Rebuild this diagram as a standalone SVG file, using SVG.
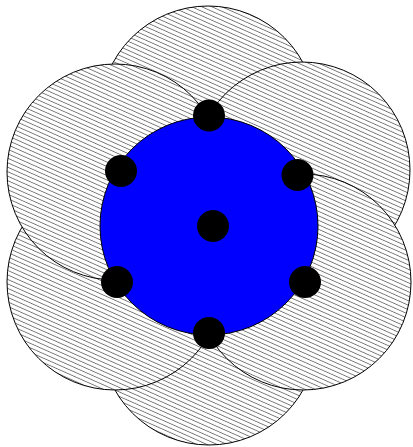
<svg xmlns="http://www.w3.org/2000/svg" width="413" height="447" viewBox="0 0 413 447">
  <style>
    .petal { fill: url(#hatch); stroke: #000; stroke-width: 1; }
    .core { fill: #0000ff; stroke: #000; stroke-width: 1; }
    .dot { fill: #000; }
  </style>
  <defs>
    <pattern id="hatch" patternUnits="userSpaceOnUse" width="8" height="4.1" patternTransform="rotate(24)">
      <rect width="8" height="4.1" fill="#fff"/>
      <line x1="0" y1="2" x2="8" y2="2" stroke="#555" stroke-width="0.8"/>
    </pattern>
  </defs>
  <rect width="413" height="447" fill="#fff"/>
  <g id="petals">
    <g id="petal-top"><circle class="petal" cx="208" cy="114" r="108"/></g>
    <g id="petal-bottom"><circle class="petal" cx="209" cy="337" r="108"/></g>
    <g id="petal-lower-left"><circle class="petal" cx="115" cy="282" r="108"/></g>
    <g id="petal-upper-left"><circle class="petal" cx="115" cy="172" r="108"/></g>
    <g id="petal-upper-right"><circle class="petal" cx="302" cy="170" r="108"/></g>
    <g id="petal-lower-right"><circle class="petal" cx="303" cy="282" r="108"/></g>
  </g>
  <g id="core"><circle class="core" cx="209" cy="226" r="109"/></g>
  <g id="dots">
    <g id="dot-center"><circle class="dot" cx="213" cy="226" r="16"/></g>
    <g id="dot-top"><circle class="dot" cx="209" cy="115.5" r="16"/></g>
    <g id="dot-upper-left"><circle class="dot" cx="121" cy="171" r="16"/></g>
    <g id="dot-upper-right"><circle class="dot" cx="297.5" cy="175" r="16"/></g>
    <g id="dot-lower-left"><circle class="dot" cx="117" cy="282" r="16"/></g>
    <g id="dot-lower-right"><circle class="dot" cx="305" cy="282" r="16"/></g>
    <g id="dot-bottom"><circle class="dot" cx="209" cy="333" r="16"/></g>
  </g>
</svg>
